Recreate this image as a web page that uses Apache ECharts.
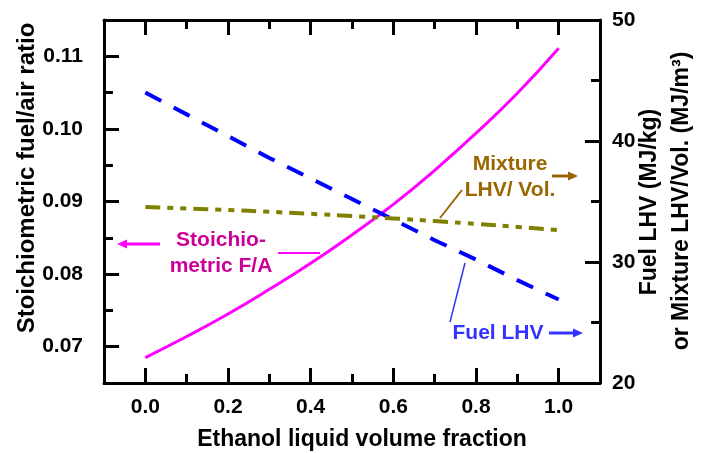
<!DOCTYPE html>
<html>
<head>
<meta charset="utf-8">
<script src="https://cdn.jsdelivr.net/npm/echarts@6/dist/echarts.min.js"></script>
<style>
  html, body { margin: 0; padding: 0; background: #fff; }
  #chart { width: 702px; height: 453px; }
</style>
</head>
<body>
<div id="chart"></div>
<script>
// ethanol blend: stoichiometric F/A and heating values
const fraction = [0.0, 0.1, 0.2, 0.3, 0.4, 0.5, 0.6, 0.7, 0.8, 0.9, 1.0];
const stoichFA = [0.0685, 0.0714, 0.0745, 0.0779, 0.0815, 0.0854, 0.0896, 0.0943, 0.0994, 0.1049, 0.1111];
const fuelLHV = [44.0, 42.2, 40.4, 38.6, 36.9, 35.2, 33.5, 31.8, 30.2, 28.5, 26.9];
const mixLHV = [34.55, 34.43, 34.30, 34.15, 33.98, 33.80, 33.60, 33.38, 33.15, 32.90, 32.64];

const xMajor = [0.0, 0.2, 0.4, 0.6, 0.8, 1.0];
const xMinor = [0.1, 0.3, 0.5, 0.7, 0.9];
const yLeftMajor = [0.07, 0.08, 0.09, 0.10, 0.11];
const yLeftMinor = [0.075, 0.085, 0.095, 0.105];
const yRightMajor = [20, 30, 40, 50];
const yRightMinor = [25, 35, 45];

const FONT = "'Liberation Sans', Arial, sans-serif";
const line = { show: true, onZero: false, lineStyle: { color: "#000", width: 3 } };
const noLine = { show: false, onZero: false };
const tick = (vals, len) => ({ show: true, inside: true, length: len, customValues: vals, lineStyle: { color: "#000", width: 3 } });
const label = (vals, fmt, margin) => ({
  show: true, customValues: vals, formatter: fmt, margin,
  color: "#000", fontFamily: FONT, fontWeight: "bold", fontSize: 21,
});
const noLabel = { show: false };

const xBase = { type: "value", min: -0.1, max: 1.1, splitLine: { show: false } };
const yL = { type: "value", min: 0.065, max: 0.115, splitLine: { show: false } };
const yR = { type: "value", min: 20, max: 50, splitLine: { show: false } };

const gridRect = { left: 104, top: 20, right: 102, bottom: 70 };

const chart = echarts.init(document.getElementById("chart"), null, { renderer: "canvas" });

const txt = (x, y, text, color, size, rot) => ({
  type: "text", x, y, rotation: rot || 0,
  style: { text, fill: color, font: `bold ${size}px ${FONT}`, align: "center", verticalAlign: "middle", lineHeight: 26 },
});
const seg = (x1, y1, x2, y2, color, w) => ({
  type: "line", shape: { x1, y1, x2, y2 }, style: { stroke: color, lineWidth: w },
});
const head = (x, y, dir, color) => ({
  type: "polygon",
  shape: { points: [[x, y], [x - dir * 10, y - 4.5], [x - dir * 10, y + 4.5]] },
  style: { fill: color },
});

chart.setOption({
  animation: false,
  backgroundColor: "#fff",
  grid: [Object.assign({}, gridRect), Object.assign({}, gridRect)],
  xAxis: [
    Object.assign({}, xBase, { gridIndex: 0, position: "bottom", axisLine: line, axisTick: tick(xMajor, 15), axisLabel: label(xMajor, (v) => v.toFixed(1), 14) }),
    Object.assign({}, xBase, { gridIndex: 0, position: "top", axisLine: line, axisTick: tick(xMajor, 15), axisLabel: noLabel }),
    Object.assign({}, xBase, { gridIndex: 1, position: "bottom", axisLine: noLine, axisTick: tick(xMinor, 9), axisLabel: noLabel }),
    Object.assign({}, xBase, { gridIndex: 1, position: "top", axisLine: noLine, axisTick: tick(xMinor, 9), axisLabel: noLabel }),
  ],
  yAxis: [
    Object.assign({}, yL, { gridIndex: 0, position: "left", axisLine: line, axisTick: tick(yLeftMajor, 15), axisLabel: label(yLeftMajor, (v) => v.toFixed(2), 21) }),
    Object.assign({}, yR, { gridIndex: 0, position: "right", axisLine: line, axisTick: tick(yRightMajor, 15), axisLabel: label(yRightMajor, (v) => String(v), 12) }),
    Object.assign({}, yL, { gridIndex: 1, position: "left", axisLine: noLine, axisTick: tick(yLeftMinor, 9), axisLabel: noLabel }),
    Object.assign({}, yR, { gridIndex: 1, position: "right", axisLine: noLine, axisTick: tick(yRightMinor, 9), axisLabel: noLabel }),
  ],
  series: [
    {
      name: "Stoichiometric F/A", type: "line", xAxisIndex: 0, yAxisIndex: 0,
      data: fraction.map((x, i) => [x, stoichFA[i]]),
      smooth: true, showSymbol: false,
      lineStyle: { color: "#ff00ff", width: 3 },
    },
    {
      name: "Fuel LHV", type: "line", xAxisIndex: 0, yAxisIndex: 1,
      data: fraction.map((x, i) => [x, fuelLHV[i]]),
      showSymbol: false,
      lineStyle: { color: "#0000ff", width: 4, type: [18, 14] },
    },
    {
      name: "Mixture LHV/Vol.", type: "line", xAxisIndex: 0, yAxisIndex: 1,
      data: fraction.map((x, i) => [x, mixLHV[i]]),
      smooth: true, showSymbol: false,
      lineStyle: { color: "#808000", width: 4, type: [15, 7, 6, 7, 6, 7] },
    },
  ],
  graphic: [
    // axis names
    txt(27, 178, "Stoichiometric fuel/air ratio", "#000", 24, Math.PI / 2),
    txt(650, 202, "Fuel LHV (MJ/kg)", "#000", 23, Math.PI / 2),
    txt(682, 201, "or Mixture LHV/Vol. (MJ/m³)", "#000", 23, Math.PI / 2),
    txt(362, 440, "Ethanol liquid volume fraction", "#000", 23),
    // annotations
    txt(221, 253, "Stoichio-\nmetric F/A", "#cc0099", 21),
    seg(160, 244, 126, 244, "#ff00ff", 3), head(117, 244, -1, "#ff00ff"),
    seg(278, 253, 320, 253, "#ff00ff", 2),
    txt(510, 177, "Mixture\nLHV/ Vol.", "#996600", 21),
    seg(552, 176, 569, 176, "#996600", 3), head(578, 176, 1, "#996600"),
    seg(462, 190, 440, 218, "#996600", 2),
    txt(498, 333, "Fuel LHV", "#3333ff", 21),
    seg(549, 333, 574, 333, "#3333ff", 3), head(583, 333, 1, "#3333ff"),
    seg(465, 263, 450, 322, "#3333ff", 1.5),
  ],
});
</script>
</body>
</html>
